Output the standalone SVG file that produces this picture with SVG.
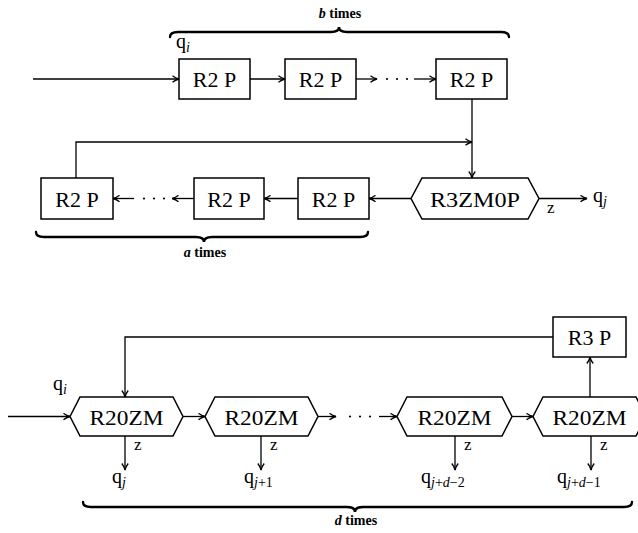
<svg xmlns="http://www.w3.org/2000/svg" width="638" height="533" viewBox="0 0 638 533">
  <style>
    text { font-family: 'Liberation Serif', 'Times New Roman', serif; fill: #000; }
    .box { fill: #fff; stroke: #000; stroke-width: 1.5; }
    .lbl { font-size: 22px; text-anchor: middle; }
    .q { font-size: 20px; }
    .sub { font-size: 14px; font-style: italic; }
    .subn { font-size: 14px; font-style: normal; }
    .z { font-size: 17px; }
    .cnt { font-size: 14px; font-weight: bold; text-anchor: middle; }
    .v { font-style: italic; }
    .wire { fill: none; stroke: #000; stroke-width: 1.3; }
    .arr { marker-end: url(#head); }
    .brace { fill: none; stroke: #000; stroke-width: 2.4; stroke-linecap: round; }
    .dot { fill: #000; }
  </style>
  <defs>
    <marker id="head" viewBox="0 0 8 8" refX="7.5" refY="4" markerWidth="8" markerHeight="8" markerUnits="userSpaceOnUse" orient="auto">
      <path d="M1,0.8 Q4,3.2 7.5,4 Q4,4.8 1,7.2" fill="none" stroke="#000" stroke-width="1.3"/>
    </marker>
  </defs>

  <!-- upper chain: b copies of R2P -->
  <g id="top-r2p-1"><rect class="box" x="179" y="59" width="71" height="40"/><text class="lbl" x="214.5" y="87">R2 P</text></g>
  <g id="top-r2p-2"><rect class="box" x="285" y="59" width="71" height="40"/><text class="lbl" x="320.5" y="87">R2 P</text></g>
  <g id="top-r2p-3"><rect class="box" x="436" y="59" width="71" height="40"/><text class="lbl" x="471.5" y="87">R2 P</text></g>

  <!-- lower chain: a copies of R2P and the R3ZM0P test -->
  <g id="mid-r2p-1"><rect class="box" x="41" y="178" width="72" height="41"/><text class="lbl" x="77" y="206.5">R2 P</text></g>
  <g id="mid-r2p-2"><rect class="box" x="194" y="178" width="70" height="41"/><text class="lbl" x="229" y="206.5">R2 P</text></g>
  <g id="mid-r2p-3"><rect class="box" x="298" y="178" width="71" height="41"/><text class="lbl" x="333.5" y="206.5">R2 P</text></g>
  <g id="r3zm0p"><path class="box" d="M411,198.5 L422,178 L528,178 L539,198.5 L528,219 L422,219 Z"/><text class="lbl" x="475" y="206.5" textLength="90" lengthAdjust="spacingAndGlyphs">R3ZM0P</text></g>

  <!-- bottom chain: d copies of R20ZM and R3P -->
  <g id="r3p"><rect class="box" x="553" y="317" width="73" height="40"/><text class="lbl" x="589.5" y="345">R3 P</text></g>
  <g id="r20zm-1"><path class="box" d="M70,416.5 L80,397 L173,397 L183,416.5 L173,436 L80,436 Z"/><text class="lbl" x="126.5" y="424.5" textLength="74" lengthAdjust="spacingAndGlyphs">R20ZM</text></g>
  <g id="r20zm-2"><path class="box" d="M205,416.5 L215,397 L308,397 L318,416.5 L308,436 L215,436 Z"/><text class="lbl" x="261.5" y="424.5" textLength="74" lengthAdjust="spacingAndGlyphs">R20ZM</text></g>
  <g id="r20zm-3"><path class="box" d="M397,416.5 L407,397 L502,397 L512,416.5 L502,436 L407,436 Z"/><text class="lbl" x="454.5" y="424.5" textLength="74" lengthAdjust="spacingAndGlyphs">R20ZM</text></g>
  <g id="r20zm-4"><path class="box" d="M533,416.5 L543,397 L636,397 L646,416.5 L636,436 L543,436 Z"/><text class="lbl" x="589.5" y="424.5" textLength="74" lengthAdjust="spacingAndGlyphs">R20ZM</text></g>

  <g id="connectors">
    <!-- upper chain -->
    <path class="wire arr" d="M33,79 L179,79"/>
    <path class="wire arr" d="M250,79 L285,79"/>
    <path class="wire arr" d="M356,79 L377,79"/>
    <circle class="dot" cx="387" cy="79" r="1.1"/><circle class="dot" cx="397" cy="79" r="1.1"/><circle class="dot" cx="407" cy="79" r="1.1"/>
    <path class="wire arr" d="M414,79 L436,79"/>
    <path class="wire arr" d="M472,99 L472,178"/>
    <path class="wire arr" d="M76,178 L76,142 L472,142"/>

    <!-- lower chain, right to left -->
    <path class="wire arr" d="M411,198.5 L369,198.5"/>
    <path class="wire arr" d="M298,198.5 L264,198.5"/>
    <path class="wire arr" d="M194,198.5 L172,198.5"/>
    <circle class="dot" cx="144" cy="198.5" r="1.1"/><circle class="dot" cx="154" cy="198.5" r="1.1"/><circle class="dot" cx="164" cy="198.5" r="1.1"/>
    <path class="wire arr" d="M134,198.5 L113,198.5"/>
    <path class="wire arr" d="M539,198.5 L587,198.5"/>

    <!-- bottom chain -->
    <path class="wire arr" d="M8,416.5 L70,416.5"/>
    <path class="wire arr" d="M183,416.5 L205,416.5"/>
    <path class="wire arr" d="M318,416.5 L336,416.5"/>
    <circle class="dot" cx="350" cy="416.5" r="1.1"/><circle class="dot" cx="360" cy="416.5" r="1.1"/><circle class="dot" cx="370" cy="416.5" r="1.1"/>
    <path class="wire arr" d="M379,416.5 L397,416.5"/>
    <path class="wire arr" d="M512,416.5 L533,416.5"/>
    <path class="wire arr" d="M590,397 L590,357"/>
    <path class="wire arr" d="M553,337 L125,337 L125,397"/>
    <path class="wire arr" d="M125,436 L125,470"/>
    <path class="wire arr" d="M261,436 L261,470"/>
    <path class="wire arr" d="M455,436 L455,470"/>
    <path class="wire arr" d="M591,436 L591,470"/>
  </g>

  <!-- braces and counts -->
  <g id="brace-b">
    <path class="brace" d="M170,37 Q170,32 178,32 L331,32 Q339,32 339,27 Q339,32 347,32 L501,32 Q509,32 509,37"/>
    <text class="cnt" x="340" y="18"><tspan class="v">b</tspan> times</text>
  </g>
  <g id="brace-a">
    <path class="brace" d="M36,232 Q36,237 44,237 L196,237 Q204,237 204,242 Q204,237 212,237 L360,237 Q368,237 368,232"/>
    <text class="cnt" x="205" y="257"><tspan class="v">a</tspan> times</text>
  </g>
  <g id="brace-d">
    <path class="brace" d="M83,502 Q83,507 91,507 L347,507 Q355,507 355,512 Q355,507 363,507 L624,507 Q632,507 632,502"/>
    <text class="cnt" x="356" y="525"><tspan class="v">d</tspan> times</text>
  </g>

  <!-- state labels -->
  <g id="labels">
    <text class="q" x="176" y="48">q<tspan class="sub" dy="4">i</tspan></text>
    <text class="q" x="593" y="202">q<tspan class="sub" dy="4">j</tspan></text>
    <text class="z" x="547" y="213">z</text>

    <text class="q" x="53" y="390">q<tspan class="sub" dy="4">i</tspan></text>
    <text class="z" x="134" y="450">z</text>
    <text class="z" x="270" y="450">z</text>
    <text class="z" x="464" y="450">z</text>
    <text class="z" x="600" y="450">z</text>
    <text class="q" x="112" y="483">q<tspan class="sub" dy="4">j</tspan></text>
    <text class="q" x="244" y="483">q<tspan class="sub" dy="4">j</tspan><tspan class="subn">+1</tspan></text>
    <text class="q" x="421" y="483">q<tspan class="sub" dy="4">j</tspan><tspan class="subn">+</tspan><tspan class="sub">d</tspan><tspan class="subn">−2</tspan></text>
    <text class="q" x="557" y="483">q<tspan class="sub" dy="4">j</tspan><tspan class="subn">+</tspan><tspan class="sub">d</tspan><tspan class="subn">−1</tspan></text>
  </g>
</svg>
